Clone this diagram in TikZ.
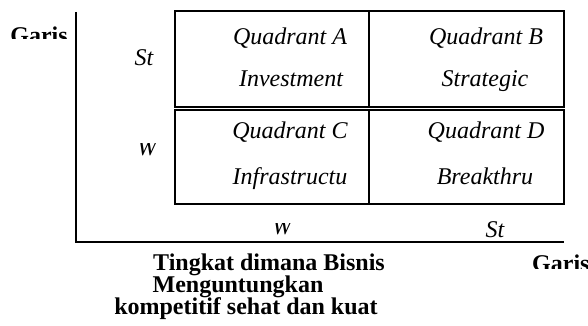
\documentclass[tikz,border=0pt]{standalone}
\usepackage{fontspec}
\setmainfont{Liberation Serif}
\begin{document}
\begin{tikzpicture}[x=1pt,y=-1pt,
  lbl/.style={inner sep=0pt,anchor=base,font=\fontsize{24}{26}\selectfont\itshape},
  blbl/.style={inner sep=0pt,anchor=base,font=\fontsize{24}{26}\selectfont\bfseries},
  frame/.style={line width=2.4pt,black}]
\useasboundingbox (0,0) rectangle (588,326);
% axes
\coordinate (ytop) at (76,12);
\coordinate (orig) at (76,242);
\coordinate (xend) at (564,242);
\draw[frame] (ytop) -- (orig) -- (xend);
% quadrant boxes
\draw[frame] (175,11) rectangle (564,107);
\draw[frame] (175,110) rectangle (564,204);
\coordinate (d1) at (369,11);
\coordinate (d2) at (369,107);
\coordinate (d3) at (369,110);
\coordinate (d4) at (369,204);
\draw[frame] (d1) -- (d2);
\draw[frame] (d3) -- (d4);
% quadrant texts
\node[lbl] (qa) at (290,45) {Quadrant A};
\node[lbl] (qa2) at (291,87) {Investment};
\node[lbl] (qb) at (486,45) {Quadrant B};
\node[lbl] (qb2) at (485,87) {Strategic};
\node[lbl] (qc) at (290,138) {Quadrant C};
\node[lbl] (qc2) at (290,184) {Infrastructu};
\node[lbl] (qd) at (486,138) {Quadrant D};
\node[lbl] (qd2) at (485,184) {Breakthru};
% axis value labels
\node[lbl] (ySt) at (144,66) {St};
\begin{scope}
  \clip (120,143) rectangle (170,170);
  \node[lbl] (yW) at (147,155) {W};
\end{scope}
\begin{scope}
  \clip (250,223) rectangle (320,240);
  \node[lbl] (xW) at (282,234) {W};
\end{scope}
\node[lbl] (xSt) at (495,237) {St};
% axis titles
\begin{scope}
  \clip (0,0) rectangle (75,39);
  \node[blbl] (yg) at (39,44) {Garis};
\end{scope}
\begin{scope}
  \clip (520,245) rectangle (588,268);
  \node[blbl,anchor=base west] (xg) at (532,271) {Garis};
\end{scope}
\begin{scope}
  \clip (90,245) rectangle (400,321);
  \node[blbl] (t1) at (269,270) {Tingkat dimana Bisnis};
  \node[blbl] (t2) at (238,292) {Menguntungkan};
  \node[blbl] (t3) at (246,314) {kompetitif sehat dan kuat};
\end{scope}
\end{tikzpicture}
\end{document}
